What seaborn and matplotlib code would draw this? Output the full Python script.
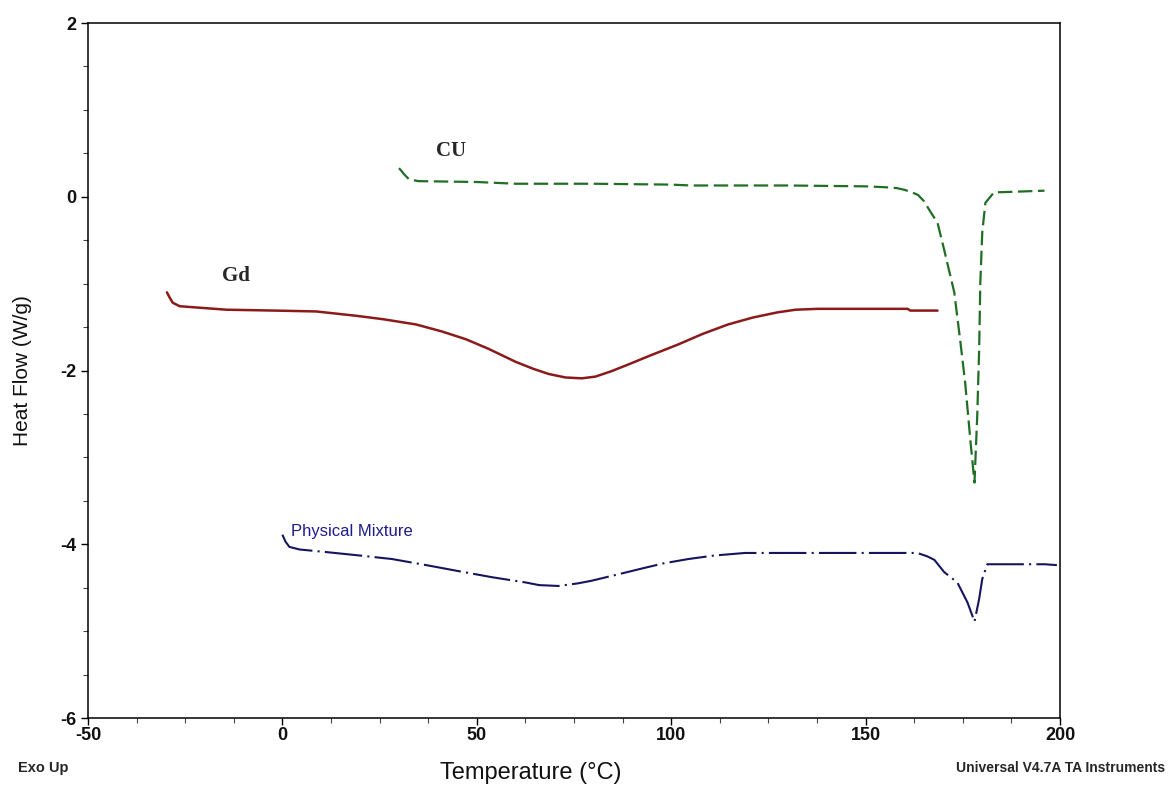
import numpy as np
import pandas as pd
import matplotlib
matplotlib.use("Agg")
import matplotlib.pyplot as plt
from matplotlib.ticker import MultipleLocator
import seaborn as sns

cu_temp = [30, 31.5, 32.6, 35, 50, 60, 80, 100, 105, 130, 150, 155, 158, 160, 162, 163.5,
           165, 166.5, 168.5, 170.2, 172.8, 174.4, 175.6, 177, 178, 178.7, 179.2, 179.5,
           180, 180.8, 183, 196]
cu_flow = [0.33, 0.25, 0.20, 0.18, 0.17, 0.15, 0.15, 0.14, 0.13, 0.13, 0.12, 0.11, 0.10,
           0.08, 0.05, 0.02, -0.05, -0.16, -0.30, -0.61, -1.10, -1.68, -2.14, -2.83,
           -3.29, -2.53, -1.76, -0.99, -0.41, -0.07, 0.05, 0.07]

gd_temp = [-29.7, -29.0, -28.2, -26.4, -14.4, -2, 8.7, 19, 26, 34.4, 41, 47.2, 53, 60,
           64.5, 68.5, 72.8, 77, 80.5, 84.5, 89, 95, 101.8, 108, 114.6, 121, 127.4, 132,
           137.7, 160.8, 161.5, 168.5]
gd_flow = [-1.10, -1.16, -1.22, -1.26, -1.30, -1.31, -1.32, -1.37, -1.41, -1.47, -1.55,
           -1.64, -1.75, -1.90, -1.98, -2.04, -2.08, -2.09, -2.07, -2.01, -1.93, -1.82,
           -1.70, -1.58, -1.47, -1.39, -1.33, -1.30, -1.29, -1.29, -1.31, -1.31]

pm_temp = [0, 0.8, 1.8, 4.4, 11.3, 20, 28.2, 37, 45.4, 54, 62.6, 66, 71, 76, 79.5, 86,
           93.3, 98, 104.4, 111, 119, 136, 163.3, 165.9, 167.7, 170.2, 173.6, 176.2, 178,
           179.2, 180, 181.3, 196, 199.2]
pm_flow = [-3.89, -3.97, -4.03, -4.06, -4.09, -4.13, -4.17, -4.24, -4.31, -4.38, -4.44,
           -4.47, -4.48, -4.45, -4.42, -4.35, -4.27, -4.22, -4.17, -4.13, -4.10, -4.10,
           -4.10, -4.14, -4.18, -4.32, -4.44, -4.67, -4.89, -4.63, -4.40, -4.23, -4.23,
           -4.24]

x_ticks = [-50, 0, 50, 100, 150, 200]
y_ticks = [-6, -4, -2, 0, 2]

sns.set_theme(style="ticks")
plt.rcParams['font.family'] = ['Liberation Sans', 'DejaVu Sans']

fig = plt.figure(figsize=(11.7, 7.86), dpi=100)
ax = fig.add_axes([0.0752, 0.0865, 0.8308, 0.8842])

sns.lineplot(x=cu_temp, y=cu_flow, sort=False, estimator=None, ax=ax,
             color='#1f6e24', linewidth=1.6)
ax.lines[-1].set_dashes((6.5, 2.5))
sns.lineplot(x=gd_temp, y=gd_flow, sort=False, estimator=None, ax=ax,
             color='#8b1a1a', linewidth=1.8)
sns.lineplot(x=pm_temp, y=pm_flow, sort=False, estimator=None, ax=ax,
             color='#15155e', linewidth=1.5)
ax.lines[-1].set_dashes((18, 2.5, 1, 2.5))

ax.set_xlim(-50, 200)
ax.set_ylim(-6, 2)
ax.set_xticks(x_ticks)
ax.set_xticklabels([str(v) for v in x_ticks])
ax.set_yticks(y_ticks)
ax.set_yticklabels([str(v) for v in y_ticks])
ax.xaxis.set_minor_locator(MultipleLocator(12.5))
ax.yaxis.set_minor_locator(MultipleLocator(0.5))
ax.tick_params(which='major', length=5, width=1, color='black', direction='out')
ax.tick_params(which='minor', length=3.5, width=0.8, color='#444444', direction='out')
ax.tick_params(axis='x', pad=1.5)
ax.tick_params(axis='y', pad=3)
for lab in ax.get_xticklabels() + ax.get_yticklabels():
    lab.set_fontsize(13)
    lab.set_fontweight('bold')
    lab.set_color('#111111')

for sp in ax.spines.values():
    sp.set_visible(True)
    sp.set_color('black')
    sp.set_linewidth(1.1)

ax.set_xlabel('Temperature (°C)', fontsize=17, color='#111111')
ax.xaxis.set_label_coords(0.456, -0.063)
ax.set_ylabel('Heat Flow (W/g)', fontsize=15, color='#111111')
ax.yaxis.set_label_coords(-0.058, 0.5)

# podpisy krzywych
ax.text(39.5, 0.53, 'CU', fontsize=15, fontweight='bold',
        family=['Liberation Serif', 'DejaVu Serif'], va='center', ha='left')
ax.text(-15.6, -0.91, 'Gd', fontsize=15, fontweight='bold',
        family=['Liberation Serif', 'DejaVu Serif'], va='center', ha='left')
ax.text(2.3, -3.85, 'Physical Mixture', fontsize=12, color='#1c1c8c',
        va='center', ha='left')

fig.text(0.0154, 0.023, 'Exo Up', fontsize=10.5, fontweight='bold', va='center', ha='left')
fig.text(0.9957, 0.023, 'Universal V4.7A TA Instruments', fontsize=10, fontweight='bold',
         va='center', ha='right')

fig.savefig('out.png', dpi=100)
plt.close(fig)
